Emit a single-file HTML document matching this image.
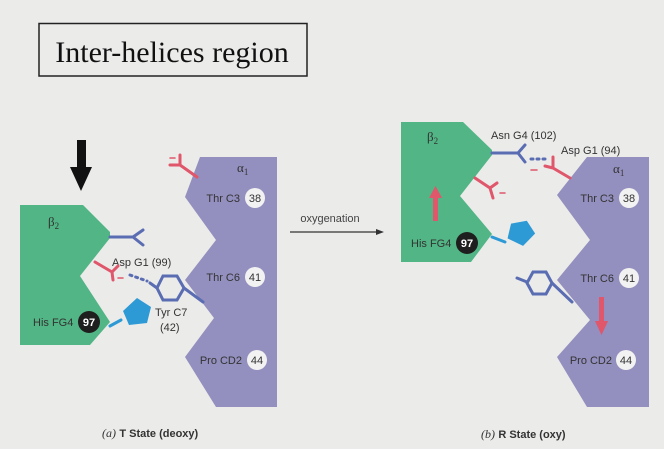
<!DOCTYPE html>
<html><head><meta charset="utf-8"><style>
html,body{margin:0;padding:0;background:#ebebea;}
svg{display:block}
text{font-family:"Liberation Sans",sans-serif;}
</style></head><body>
<svg width="664" height="449" viewBox="0 0 664 449" xmlns="http://www.w3.org/2000/svg">
<rect width="664" height="449" fill="#ebebea"/>
<rect x="39" y="23.5" width="268" height="52.5" fill="none" stroke="#222" stroke-width="1.5"/>
<text x="172" y="62" text-anchor="middle" font-family="Liberation Serif,serif" font-size="30" fill="#111" style="font-family:'Liberation Serif',serif">Inter-helices region</text>

<!-- black arrow -->
<rect x="77" y="140" width="9" height="28" fill="#111"/>
<polygon points="70,167 92,167 81,191" fill="#111"/>

<!-- LEFT -->
<polygon points="20,205 83,205 110,232 110,238 80,276 110,322 90,345 20,345" fill="#52b585"/>
<polygon points="200,157 277,157 277,407 216,407 185,357 214,318 185,280 216,240 185,197" fill="#938fbe"/>
<g font-size="11" fill="#333">
<text x="48" y="226" font-family="Liberation Serif,serif" style="font-family:'Liberation Serif',serif" font-size="13">β<tspan font-size="9" dy="3">2</tspan></text>
<text x="237" y="172" style="font-family:'Liberation Serif',serif" font-size="13">α<tspan font-size="9" dy="3">1</tspan></text>
<text x="240" y="202" text-anchor="end">Thr C3</text>
<text x="240" y="281" text-anchor="end">Thr C6</text>
<text x="242" y="364" text-anchor="end">Pro CD2</text>
<text x="33" y="326">His FG4</text>
<text x="112" y="266">Asp G1 (99)</text>
<text x="155" y="316">Tyr C7</text>
<text x="160" y="331">(42)</text>
</g>
<g font-size="11" font-weight="bold" text-anchor="middle">
<circle cx="255" cy="198" r="10" fill="#f2f2f2"/><text x="255" y="202" fill="#333" font-weight="normal">38</text>
<circle cx="255" cy="277" r="10" fill="#f2f2f2"/><text x="255" y="281" fill="#333" font-weight="normal">41</text>
<circle cx="257" cy="360" r="10" fill="#f2f2f2"/><text x="257" y="364" fill="#333" font-weight="normal">44</text>
<circle cx="89" cy="322" r="11" fill="#1e1e1e"/><text x="89" y="326" fill="#fff">97</text>
</g>
<g fill="none" stroke-width="3" stroke-linecap="round">
<path d="M110 237 H133 M133 237 L143 230 M133 237 L143 245" stroke="#5a6db3"/>
<path d="M95 262 L112 272 M112 272 L118 266 M112 272 L113 280" stroke="#e0566a"/>
<path d="M197 177 L180 165 M180 165 L170 165 M180 165 L180 155" stroke="#e0566a"/>
<path d="M130 275 L147 281" stroke="#5a6db3" stroke-dasharray="2 4"/>
<path d="M150 283 L157 288" stroke="#5a6db3"/>
<polygon points="157,288 163,276 177,276 184,288 177,300 163,300" stroke="#5a6db3"/>
<path d="M184 288 L203 302" stroke="#5a6db3"/>
<path d="M110 326 L121 320" stroke="#2d9ad6"/>
<path d="M170 158 H175 M118 278 H123" stroke="#e0566a" stroke-width="1.5"/>
</g>
<polygon points="137,298 151,307 147,323 129,325 123,311" fill="#2d9ad6"/>

<!-- middle arrow -->
<text x="330" y="222" text-anchor="middle" font-size="11" fill="#444">oxygenation</text>
<line x1="290" y1="232" x2="377" y2="232" stroke="#333" stroke-width="1.2"/>
<polygon points="376,229 384,232 376,235" fill="#333"/>

<!-- RIGHT -->
<polygon points="401,122 463,122 492,150 492,155 460,196 492,234 471,262 401,262" fill="#52b585"/>
<polygon points="587,157 649,157 649,407 587,407 557,357 590,320 557,280 590,240 557,195" fill="#938fbe"/>
<g font-size="11" fill="#333">
<text x="427" y="141" style="font-family:'Liberation Serif',serif" font-size="13">β<tspan font-size="9" dy="3">2</tspan></text>
<text x="613" y="173" style="font-family:'Liberation Serif',serif" font-size="13">α<tspan font-size="9" dy="3">1</tspan></text>
<text x="491" y="139">Asn G4 (102)</text>
<text x="561" y="154">Asp G1 (94)</text>
<text x="614" y="202" text-anchor="end">Thr C3</text>
<text x="614" y="282" text-anchor="end">Thr C6</text>
<text x="612" y="364" text-anchor="end">Pro CD2</text>
<text x="411" y="247">His FG4</text>
</g>
<g font-size="11" font-weight="bold" text-anchor="middle">
<circle cx="629" cy="198" r="10" fill="#f2f2f2"/><text x="629" y="202" fill="#333" font-weight="normal">38</text>
<circle cx="629" cy="278" r="10" fill="#f2f2f2"/><text x="629" y="282" fill="#333" font-weight="normal">41</text>
<circle cx="626" cy="360" r="10" fill="#f2f2f2"/><text x="626" y="364" fill="#333" font-weight="normal">44</text>
<circle cx="467" cy="243" r="11" fill="#1e1e1e"/><text x="467" y="247" fill="#fff">97</text>
</g>
<g fill="none" stroke-width="3" stroke-linecap="round">
<path d="M492 153 H518 M518 153 L525 145 M518 153 L525 162" stroke="#5a6db3"/>
<path d="M531 159 L546 159" stroke="#5a6db3" stroke-dasharray="2 4"/>
<path d="M570 178 L553 168 M553 168 L545 166 M553 168 L553 157" stroke="#e0566a"/>
<path d="M475 178 L490 188 M490 188 L497 183 M490 188 L493 198" stroke="#e0566a"/>
<path d="M531 170 H537 M500 193 H505" stroke="#e0566a" stroke-width="1.5"/>
<path d="M492 237 L505 242" stroke="#2d9ad6"/>
<path d="M517 278 L527 282" stroke="#5a6db3"/>
<polygon points="527,283 533,272 546,272 552,283 546,294 533,294" stroke="#5a6db3"/>
<path d="M552 283 L572 302" stroke="#5a6db3"/>
</g>
<polygon points="513,222 529,222 535,236 521,246 507,236" fill="#2d9ad6" transform="rotate(-10 521 234)"/>
<rect x="433" y="196" width="5" height="25" fill="#e0566a"/>
<polygon points="429,198 442,198 435.5,186" fill="#e0566a"/>
<rect x="599" y="297" width="5" height="26" fill="#e0566a"/>
<polygon points="595,321 608,321 601.5,335" fill="#e0566a"/>

<!-- captions -->
<text x="102" y="437" font-size="12" fill="#333"><tspan style="font-family:'Liberation Serif',serif" font-style="italic">(a)</tspan> <tspan font-weight="bold" font-size="11">T State (deoxy)</tspan></text>
<text x="481" y="438" font-size="12" fill="#333"><tspan style="font-family:'Liberation Serif',serif" font-style="italic">(b)</tspan> <tspan font-weight="bold" font-size="11">R State (oxy)</tspan></text>
</svg>
</body></html>
